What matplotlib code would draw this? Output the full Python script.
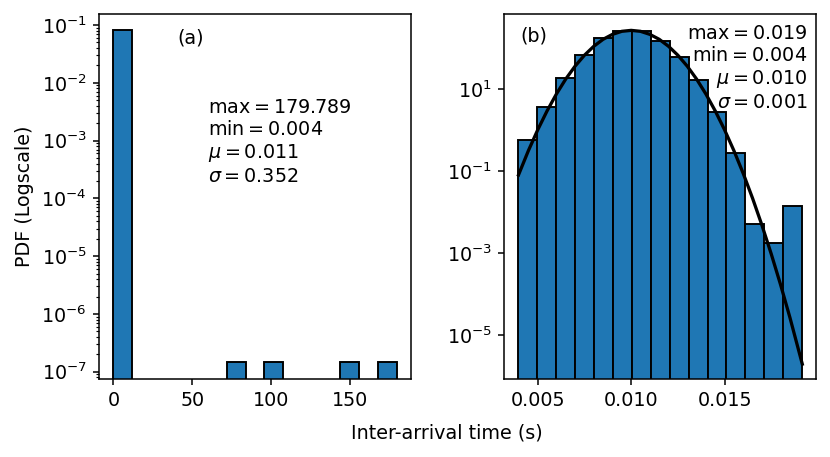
import numpy as np
import matplotlib
matplotlib.use("Agg")
import matplotlib.pyplot as plt

# Panel (a): all inter-arrival times
a_min, a_max = 0.004, 179.789
a_heights = [0.0834, 0, 0, 0, 0, 0, 1.46e-7, 0, 1.46e-7, 0, 0, 0, 1.46e-7, 0, 1.46e-7]
a_stats = {"max": 179.789, "min": 0.004, "mu": 0.011, "sigma": 0.352}

# Panel (b): filtered inter-arrival times
b_min, b_max = 0.00397, 0.01915
b_heights = [0.57, 3.7, 18.9, 66, 178, 255, 262, 150, 59, 16.6, 2.8, 0.28, 0.0052, 0.00175, 0.0138]
b_stats = {"max": 0.019, "min": 0.004, "mu": 0.010, "sigma": 0.001}

# fitted normal curve
fit_x = [0.00397, 0.0045, 0.005, 0.0055, 0.006, 0.0065, 0.007, 0.0075, 0.008, 0.0085,
         0.009, 0.0095, 0.010, 0.0105, 0.011, 0.0115, 0.012, 0.0125, 0.013, 0.0135,
         0.014, 0.0145, 0.015, 0.0155, 0.016, 0.0165, 0.017, 0.0175, 0.018, 0.0185, 0.01916]
fit_y = [0.080, 0.313, 1.01, 2.92, 7.55, 17.5, 36.1, 66.6, 110, 163,
         215, 255, 269, 255, 215, 163, 110, 66.6, 36.1, 17.5,
         7.55, 2.92, 1.01, 0.313, 0.0867, 0.0215, 0.00475, 9.4e-4, 1.67e-4, 2.64e-5, 1.95e-6]

DPI = 138
W, H = 830, 457
fig = plt.figure(figsize=(W / DPI, H / DPI), dpi=DPI)
ax1 = fig.add_axes([99.3 / W, (H - 379) / H, (410.7 - 99.3) / W, 365 / H])
ax2 = fig.add_axes([504.3 / W, (H - 379) / H, (816.3 - 504.3) / W, 365 / H])


def stats_text(s):
    return "\n".join((r"$\mathrm{max}=%.3f$" % s["max"],
                      r"$\mathrm{min}=%.3f$" % s["min"],
                      r"$\mu=%.3f$" % s["mu"],
                      r"$\sigma=%.3f$" % s["sigma"]))


edges_a = np.linspace(a_min, a_max, len(a_heights) + 1)
centers_a = 0.5 * (edges_a[:-1] + edges_a[1:])
ax1.hist(centers_a, bins=edges_a, weights=a_heights, log=True,
         color="#1f77b4", edgecolor="black", linewidth=1)
ax1.set_ylim(10 ** -7.126, 10 ** -0.81)
ax1.set_xlim(a_min - 0.05 * (a_max - a_min), a_max + 0.05 * (a_max - a_min))
ax1.set_xticks([0, 50, 100, 150])
ax1.set_ylabel("PDF (Logscale)")
ax1.text(0.25, 0.96, "(a)", transform=ax1.transAxes, va="top", ha="left")
ax1.text(0.35, 0.65, stats_text(a_stats), transform=ax1.transAxes, va="center",
         ha="left")

edges_b = np.linspace(b_min, b_max, len(b_heights) + 1)
centers_b = 0.5 * (edges_b[:-1] + edges_b[1:])
ax2.hist(centers_b, bins=edges_b, weights=b_heights, log=True,
         color="#1f77b4", edgecolor="black", linewidth=1)
ax2.plot(fit_x, fit_y, color="black", linewidth=1.7)
ax2.set_ylim(10 ** -6.073, 10 ** 2.829)
ax2.set_xlim(b_min - 0.05 * (b_max - b_min), b_max + 0.05 * (b_max - b_min))
ax2.set_xticks([0.005, 0.010, 0.015])
ax2.set_yticks([1e1, 1e-1, 1e-3, 1e-5])
ax2.minorticks_off()
ax2.text(0.05, 0.966, "(b)", transform=ax2.transAxes, va="top", ha="left")
ax2.text(0.972, 0.972, stats_text(b_stats), transform=ax2.transAxes, va="top",
         ha="right", multialignment="right")

for ax in (ax1, ax2):
    ax.tick_params(which="major", length=3.0)
    ax.tick_params(which="minor", length=1.75)

fig.text(446.7 / W, 1 - 432.7 / H, "Inter-arrival time (s)", ha="center", va="center")

fig.savefig("out.png", dpi=DPI)
